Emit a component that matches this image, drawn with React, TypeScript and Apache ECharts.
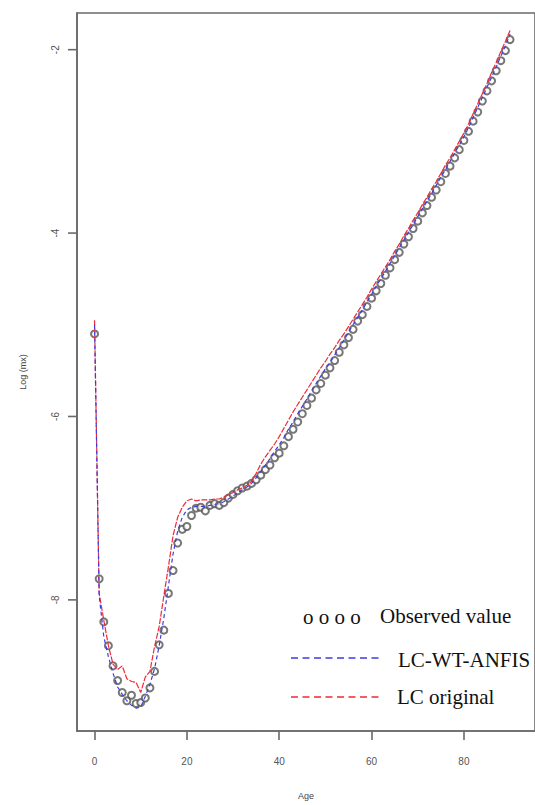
import React, { useEffect, useRef } from "react";
import * as echarts from "echarts";

const ages = [
  0, 1, 2, 3, 4, 5, 6, 7, 8, 9, 10, 11, 12, 13, 14, 15, 16, 17, 18, 19,
  20, 21, 22, 23, 24, 25, 26, 27, 28, 29, 30, 31, 32, 33, 34, 35, 36, 37, 38, 39,
  40, 41, 42, 43, 44, 45, 46, 47, 48, 49, 50, 51, 52, 53, 54, 55, 56, 57, 58, 59,
  60, 61, 62, 63, 64, 65, 66, 67, 68, 69, 70, 71, 72, 73, 74, 75, 76, 77, 78, 79,
  80, 81, 82, 83, 84, 85, 86, 87, 88, 89, 90,
];

const observed = [
  -5.1, -7.77, -8.24, -8.5, -8.72, -8.88, -9.01, -9.1, -9.04, -9.13,
  -9.12, -9.07, -8.96, -8.78, -8.49, -8.33, -7.93, -7.68, -7.38, -7.23,
  -7.2, -7.08, -7.0, -6.99, -7.03, -6.97, -6.95, -6.97, -6.94, -6.89,
  -6.85, -6.81, -6.78, -6.76, -6.73, -6.69, -6.64, -6.58, -6.53, -6.45,
  -6.4, -6.32, -6.22, -6.14, -6.06, -5.97, -5.88, -5.8, -5.71, -5.64,
  -5.55, -5.47, -5.39, -5.3, -5.22, -5.14, -5.05, -4.96, -4.89, -4.8,
  -4.71, -4.63, -4.55, -4.46, -4.38, -4.29, -4.21, -4.12, -4.04, -3.95,
  -3.87, -3.78, -3.7, -3.61, -3.53, -3.44, -3.35, -3.27, -3.18, -3.09,
  -2.99, -2.89, -2.78, -2.68, -2.56, -2.45, -2.34, -2.23, -2.12, -2.01,
  -1.89,
];

const lcOriginal = [
  -4.95, -7.93, -8.22, -8.5, -8.7, -8.76, -8.72, -8.86, -8.89, -8.9,
  -9.01, -8.84, -8.78, -8.51, -8.29, -7.96, -7.64, -7.3, -7.1, -6.99,
  -6.92, -6.9, -6.92, -6.91, -6.91, -6.91, -6.9, -6.9, -6.88, -6.85,
  -6.83, -6.8, -6.78, -6.75, -6.71, -6.62, -6.52, -6.44, -6.37, -6.3,
  -6.22, -6.13, -6.04, -5.95, -5.87, -5.79, -5.71, -5.63, -5.55, -5.47,
  -5.4, -5.32, -5.25, -5.17, -5.1, -5.02, -4.94, -4.86, -4.78, -4.7,
  -4.61, -4.53, -4.45, -4.37, -4.29, -4.2, -4.12, -4.03, -3.95, -3.86,
  -3.78, -3.69, -3.61, -3.52, -3.44, -3.35, -3.26, -3.18, -3.09, -3.0,
  -2.91, -2.81, -2.7, -2.59, -2.48, -2.37, -2.25, -2.14, -2.02, -1.91,
  -1.79,
];

const lcWtAnfis = [
  -5.0, -7.95, -8.4, -8.62, -8.8, -8.95, -9.03, -9.1, -9.15, -9.18,
  -9.17, -9.05, -8.92, -8.75, -8.5, -8.2, -7.85, -7.5, -7.25, -7.1,
  -7.02, -6.99, -6.98, -6.98, -6.98, -6.97, -6.96, -6.95, -6.93, -6.9,
  -6.87, -6.83, -6.8, -6.77, -6.73, -6.67, -6.6, -6.53, -6.46, -6.38,
  -6.31, -6.23, -6.14, -6.06, -5.97, -5.89, -5.81, -5.72, -5.64, -5.56,
  -5.48, -5.41, -5.33, -5.25, -5.17, -5.08, -5.0, -4.92, -4.84, -4.75,
  -4.67, -4.58, -4.5, -4.42, -4.33, -4.25, -4.16, -4.08, -3.99, -3.91,
  -3.82, -3.74, -3.65, -3.57, -3.48, -3.39, -3.31, -3.22, -3.13, -3.04,
  -2.95, -2.85, -2.74, -2.63, -2.52, -2.41, -2.3, -2.19, -2.07, -1.96,
  -1.83,
];

const xTicks = [0, 20, 40, 60, 80];
const yTicks = [-8, -6, -4, -2];
const legendMarker = "o o o o";
const legendLabels = ["Observed value", "LC-WT-ANFIS", "LC original"];

const RED = "#f02a35";
const BLUE = "#3d3ddf";
const AXIS = "#6a6a6a";
const X_MIN = -3.8;
const X_MAX = 95.4;
const Y_MIN = -9.43;
const Y_MAX = -1.6;

export default function App() {
  const ref = useRef<HTMLDivElement>(null);

  useEffect(() => {
    const chart = echarts.init(ref.current!, null, { renderer: "svg" });
    const pair = (ys: number[]) => ages.map((a, i) => [a, ys[i]]);
    const serif = "'Liberation Serif', 'Times New Roman', serif";
    const sans = "'Liberation Sans', Arial, sans-serif";

    const legendGraphics: any[] = [
      {
        type: "text",
        x: 303,
        y: 617,
        style: { text: legendMarker, fontSize: 21, fontFamily: serif, fill: "#111", verticalAlign: "middle" },
      },
      {
        type: "text",
        x: 380,
        y: 616,
        style: { text: legendLabels[0], fontSize: 21, fontFamily: serif, fill: "#111", verticalAlign: "middle" },
      },
      {
        type: "line",
        shape: { x1: 291, y1: 658, x2: 383, y2: 658 },
        style: { stroke: BLUE, lineWidth: 1.6, lineDash: [7, 4.5] },
      },
      {
        type: "text",
        x: 398,
        y: 660,
        style: { text: legendLabels[1], fontSize: 21, fontFamily: serif, fill: "#111", verticalAlign: "middle" },
      },
      {
        type: "line",
        shape: { x1: 291, y1: 697, x2: 383, y2: 697 },
        style: { stroke: RED, lineWidth: 1.6, lineDash: [7, 4.5] },
      },
      {
        type: "text",
        x: 397,
        y: 697,
        style: { text: legendLabels[2], fontSize: 21, fontFamily: serif, fill: "#111", verticalAlign: "middle" },
      },
    ];

    chart.setOption({
      animation: false,
      backgroundColor: "#ffffff",
      grid: {
        left: 77,
        top: 13,
        width: 470,
        height: 718,
        show: true,
        borderColor: AXIS,
        borderWidth: 1.6,
        backgroundColor: "transparent",
      },
      xAxis: {
        type: "value",
        min: X_MIN,
        max: X_MAX,
        name: "Age",
        nameLocation: "middle",
        nameGap: 60,
        nameTextStyle: { fontSize: 9, color: "#444", fontFamily: sans },
        axisLine: { show: true, onZero: false, lineStyle: { color: AXIS, width: 1.6 } },
        splitLine: { show: false },
        axisTick: {
          show: true,
          customValues: xTicks,
          length: 9,
          lineStyle: { color: AXIS, width: 1.6 },
        },
        axisLabel: {
          customValues: xTicks,
          margin: 25,
          fontSize: 10,
          color: "#555",
          fontFamily: sans,
        },
      },
      yAxis: {
        type: "value",
        min: Y_MIN,
        max: Y_MAX,
        name: "Log (mx)",
        nameLocation: "middle",
        nameGap: 50,
        nameTextStyle: { fontSize: 9, color: "#444", fontFamily: sans },
        axisLine: { show: true, onZero: false, lineStyle: { color: AXIS, width: 1.6 } },
        splitLine: { show: false },
        axisTick: { show: false },
        axisLabel: {
          customValues: yTicks,
          rotate: 90,
          margin: 17,
          fontSize: 10,
          color: "#555",
          fontFamily: sans,
        },
      },
      series: [
        {
          name: legendLabels[0],
          type: "scatter",
          data: pair(observed),
          symbol: "emptyCircle",
          symbolSize: 7,
          itemStyle: { color: "#555555", borderColor: "#555555", borderWidth: 1 },
        },
        {
          name: legendLabels[2],
          type: "line",
          data: pair(lcOriginal),
          showSymbol: false,
          lineStyle: { color: RED, width: 1.2, type: [6, 1.5] },
        },
        {
          name: legendLabels[1],
          type: "line",
          data: pair(lcWtAnfis),
          showSymbol: false,
          lineStyle: { color: BLUE, width: 1.2, type: [4, 3] },
        },
      ],
      graphic: legendGraphics,
    });

    // y-axis tick marks placed through the chart's own scale
    const yTickGraphics = yTicks.map((v) => {
      const p = chart.convertToPixel({ gridIndex: 0 }, [X_MIN, v]) as number[];
      return {
        type: "line",
        shape: { x1: p[0] - 9, y1: p[1], x2: p[0], y2: p[1] },
        style: { stroke: AXIS, lineWidth: 1.6 },
      };
    });
    chart.setOption({ graphic: [...legendGraphics, ...yTickGraphics] });

    return () => chart.dispose();
  }, []);

  return (
    <div
      ref={ref}
      style={{ position: "absolute", left: 0, top: 0, width: 535, height: 805, background: "#fff" }}
    />
  );
}
